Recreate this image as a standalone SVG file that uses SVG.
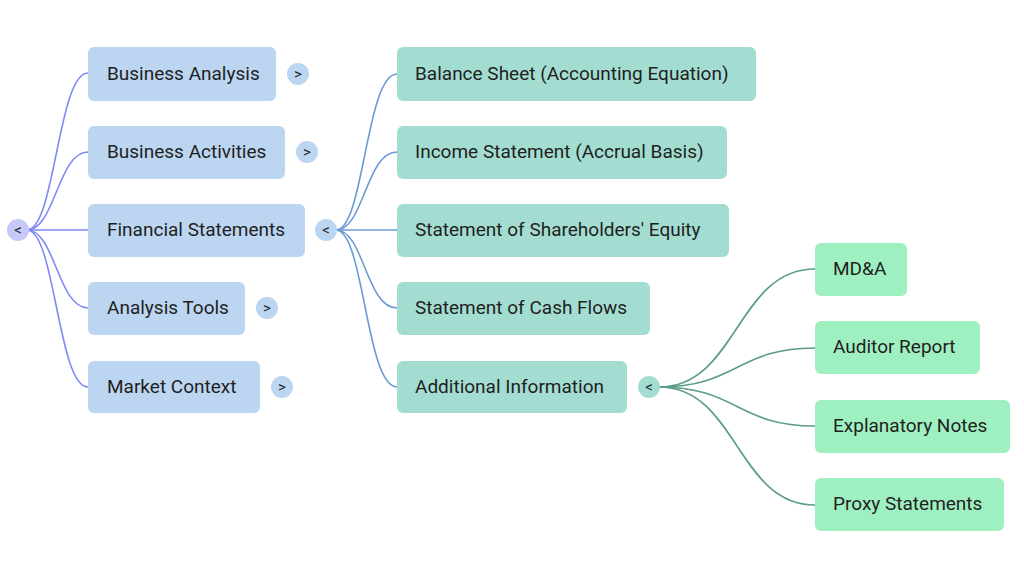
<svg xmlns="http://www.w3.org/2000/svg" width="1024" height="569" viewBox="0 0 1024 569">
<style>
.l1 rect{fill:#bcd5f0}
.l2 rect{fill:#a3ddd1}
.l3 rect{fill:#9ff0c0}
text{font-family:Roboto,"Noto Sans",sans-serif;font-size:19px;fill:#1f1f1f}
.t{font-size:15px;text-anchor:middle}
.c1{fill:#c6c9f7}
.c2{fill:#bcd5f0}
.c3{fill:#a3ddd1}
.e1 path{stroke:#8189f5;stroke-width:1.6;fill:none}
.e2 path{stroke:#6b9bd3;stroke-width:1.6;fill:none}
.e3 path{stroke:#5c9c8a;stroke-width:1.6;fill:none}
</style>
<rect width="1024" height="569" fill="#ffffff"/>
<g id="connectors">
<g class="e1">
<path d="M27 230 C55 230 58 73 88 73"/>
<path d="M27 230 C55 230 58 152 88 152"/>
<path d="M27 230 L88 230"/>
<path d="M27 230 C55 230 58 308 88 308"/>
<path d="M27 230 C55 230 58 387 88 387"/>
</g>
<g class="e2">
<path d="M336 230 C364 230 366 74 397 74"/>
<path d="M336 230 C364 230 366 152 397 152"/>
<path d="M336 230 L397 230"/>
<path d="M336 230 C364 230 366 308 397 308"/>
<path d="M336 230 C364 230 366 387 397 387"/>
</g>
<g class="e3">
<path d="M659 387 C737 387 737 269 815 269"/>
<path d="M659 387 C737 387 737 348 815 348"/>
<path d="M659 387 C737 387 737 426 815 426"/>
<path d="M659 387 C737 387 737 505 815 505"/>
</g>
</g>
<g id="root"><circle class="c1" cx="18" cy="230" r="11"/><text class="t" x="18" y="235">&lt;</text></g>
<g id="n-business-analysis" class="l1"><rect x="88" y="47" width="188" height="54" rx="6"/><text x="107" y="80">Business Analysis</text><circle class="c2" cx="298" cy="74" r="11"/><text class="t" x="298" y="79">&gt;</text></g>
<g id="n-business-activities" class="l1"><rect x="88" y="126" width="197" height="53" rx="6"/><text x="107" y="158">Business Activities</text><circle class="c2" cx="307" cy="152" r="11"/><text class="t" x="307" y="157">&gt;</text></g>
<g id="n-financial-statements" class="l1"><rect x="88" y="204" width="217" height="53" rx="6"/><text x="107" y="236">Financial Statements</text><circle class="c2" cx="326" cy="230" r="11"/><text class="t" x="326" y="235">&lt;</text></g>
<g id="n-analysis-tools" class="l1"><rect x="88" y="282" width="157" height="53" rx="6"/><text x="107" y="314">Analysis Tools</text><circle class="c2" cx="267" cy="308" r="11"/><text class="t" x="267" y="313">&gt;</text></g>
<g id="n-market-context" class="l1"><rect x="88" y="361" width="172" height="52" rx="6"/><text x="107" y="393">Market Context</text><circle class="c2" cx="282" cy="387" r="11"/><text class="t" x="282" y="392">&gt;</text></g>
<g id="n-balance-sheet" class="l2"><rect x="397" y="47" width="359" height="54" rx="6"/><text x="415" y="80">Balance Sheet (Accounting Equation)</text></g>
<g id="n-income-statement" class="l2"><rect x="397" y="126" width="330" height="53" rx="6"/><text x="415" y="158">Income Statement (Accrual Basis)</text></g>
<g id="n-shareholders-equity" class="l2"><rect x="397" y="204" width="332" height="53" rx="6"/><text x="415" y="236">Statement of Shareholders' Equity</text></g>
<g id="n-cash-flows" class="l2"><rect x="397" y="282" width="253" height="53" rx="6"/><text x="415" y="314">Statement of Cash Flows</text></g>
<g id="n-additional-information" class="l2"><rect x="397" y="361" width="230" height="52" rx="6"/><text x="415" y="393">Additional Information</text><circle class="c3" cx="649" cy="387" r="11"/><text class="t" x="649" y="392">&lt;</text></g>
<g id="n-mda" class="l3"><rect x="815" y="243" width="92" height="53" rx="6"/><text x="833" y="275">MD&amp;A</text></g>
<g id="n-auditor-report" class="l3"><rect x="815" y="321" width="165" height="53" rx="6"/><text x="833" y="353">Auditor Report</text></g>
<g id="n-explanatory-notes" class="l3"><rect x="815" y="400" width="195" height="53" rx="6"/><text x="833" y="432">Explanatory Notes</text></g>
<g id="n-proxy-statements" class="l3"><rect x="815" y="478" width="189" height="53" rx="6"/><text x="833" y="510">Proxy Statements</text></g>
</svg>
